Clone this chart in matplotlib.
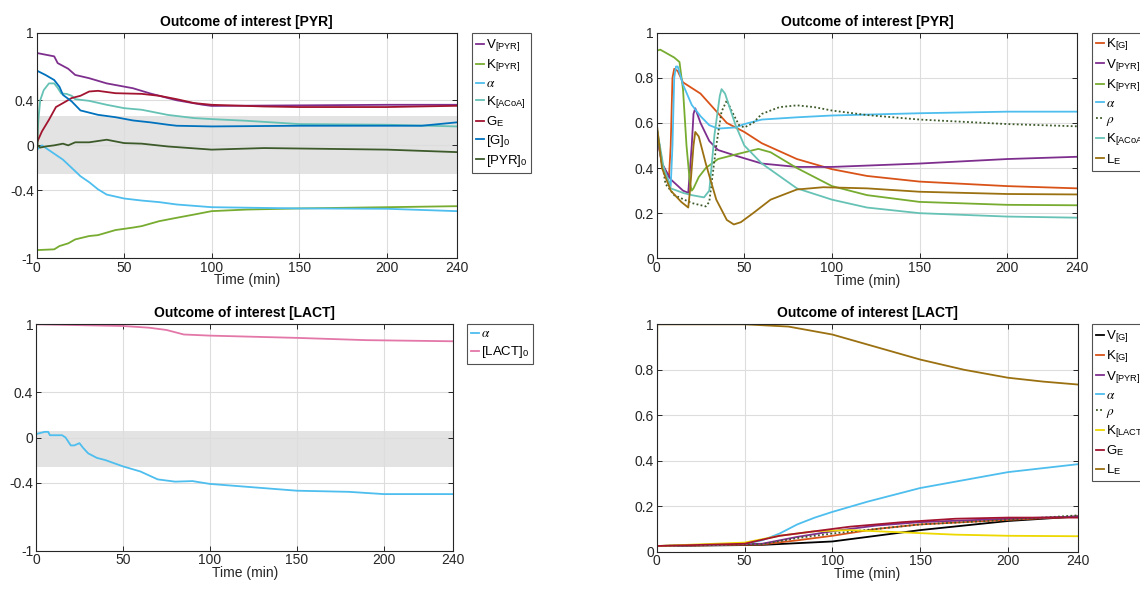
import matplotlib
matplotlib.use("Agg")
import matplotlib.pyplot as plt

plt.rcParams['font.family'] = ['Liberation Sans', 'DejaVu Sans']
plt.rcParams['mathtext.fontset'] = 'stix'

# ---------------- colours ----------------
C_VPYR = '#7E2F8E'
C_KPYR = '#77AC30'
C_ALPHA = '#4DBEEE'
C_KACOA = '#66C2B5'
C_GE = '#A2142F'
C_G0 = '#0072BD'
C_PYR0 = '#3D5A2A'
C_KG = '#D95319'
C_RHO = '#3D5A2A'
C_LE = '#9B7010'
C_LACT0 = '#E377A8'
C_VG = '#000000'
C_KLACT = '#EDD800'

# ---------------- data: top-left (PYR, sensitivity) ----------------
tl_vpyr_t = [0, 10, 12, 18, 22, 30, 40, 55, 65, 80, 95, 100, 150, 200, 240]
tl_vpyr_y = [0.82, 0.79, 0.73, 0.68, 0.625, 0.596, 0.55, 0.507, 0.46, 0.40, 0.36, 0.35, 0.355, 0.36, 0.36]
tl_kpyr_t = [0, 10, 13, 18, 22, 30, 35, 45, 55, 60, 70, 80, 90, 100, 120, 150, 200, 240]
tl_kpyr_y = [-0.93, -0.923, -0.894, -0.87, -0.835, -0.805, -0.797, -0.752, -0.73, -0.717, -0.673, -0.643, -0.614, -0.584, -0.57, -0.56, -0.549, -0.54]
tl_alpha_t = [0, 3, 8, 15, 20, 25, 30, 35, 40, 50, 60, 70, 80, 100, 150, 200, 240]
tl_alpha_y = [-0.04, 0.0, -0.053, -0.127, -0.2, -0.274, -0.327, -0.39, -0.437, -0.472, -0.49, -0.504, -0.525, -0.549, -0.56, -0.563, -0.584]
tl_kacoa_t = [0, 1, 2, 4, 7, 10, 12, 14, 17, 20, 22, 30, 40, 50, 60, 75, 90, 100, 120, 150, 200, 240]
tl_kacoa_y = [0.0, 0.23, 0.40, 0.49, 0.55, 0.55, 0.51, 0.46, 0.457, 0.44, 0.41, 0.395, 0.36, 0.33, 0.316, 0.27, 0.242, 0.233, 0.218, 0.189, 0.183, 0.168]
tl_ge_t = [0, 3, 7, 11, 15, 20, 25, 30, 35, 45, 60, 70, 80, 90, 100, 130, 150, 200, 240]
tl_ge_y = [0.02, 0.124, 0.227, 0.34, 0.375, 0.42, 0.44, 0.478, 0.484, 0.463, 0.457, 0.44, 0.41, 0.375, 0.36, 0.345, 0.34, 0.34, 0.351]
tl_g0_t = [0, 5, 10, 13, 15, 20, 25, 35, 45, 55, 65, 75, 80, 100, 150, 220, 240]
tl_g0_y = [0.664, 0.625, 0.58, 0.52, 0.448, 0.39, 0.31, 0.271, 0.25, 0.221, 0.204, 0.183, 0.174, 0.168, 0.174, 0.174, 0.204]
tl_pyr0_t = [0, 0.5, 2, 5, 10, 15, 18, 22, 30, 40, 50, 60, 75, 100, 130, 200, 240]
tl_pyr0_y = [1.0, 0.0, -0.02, -0.01, 0.0, 0.015, 0.0, 0.027, 0.027, 0.05, 0.02, 0.015, -0.01, -0.038, -0.024, -0.038, -0.06]
tl_band = [-0.25, 0.26]

# ---------------- data: top-right (PYR, parameters) ----------------
tr_kg_t = [0, 3, 7, 8, 9, 10, 12, 15, 25, 40, 50, 60, 80, 100, 120, 150, 200, 240]
tr_kg_y = [0.55, 0.42, 0.36, 0.5, 0.8, 0.84, 0.83, 0.78, 0.73, 0.6, 0.56, 0.51, 0.44, 0.395, 0.365, 0.34, 0.32, 0.31]
tr_vpyr_t = [0, 3, 8, 15, 18, 20, 21, 22, 25, 30, 35, 45, 60, 80, 100, 150, 200, 240]
tr_vpyr_y = [0.55, 0.42, 0.35, 0.3, 0.29, 0.5, 0.64, 0.665, 0.6, 0.52, 0.48, 0.455, 0.42, 0.405, 0.405, 0.42, 0.44, 0.45]
tr_kpyr_t = [0, 2, 10, 13, 15, 17, 19, 20, 21, 24, 28, 35, 45, 58, 65, 80, 100, 120, 150, 200, 240]
tr_kpyr_y = [0.92, 0.925, 0.89, 0.87, 0.75, 0.5, 0.33, 0.3, 0.31, 0.36, 0.4, 0.44, 0.46, 0.485, 0.47, 0.4, 0.32, 0.28, 0.25, 0.237, 0.235]
tr_alpha_t = [0, 3, 8, 9, 10, 11, 12, 15, 20, 25, 30, 35, 45, 50, 60, 80, 100, 150, 200, 240]
tr_alpha_y = [0.58, 0.42, 0.32, 0.5, 0.8, 0.85, 0.85, 0.77, 0.68, 0.63, 0.59, 0.575, 0.58, 0.595, 0.615, 0.625, 0.633, 0.643, 0.65, 0.65]
tr_rho_t = [0, 5, 10, 20, 28, 30, 34, 37, 40, 43, 47, 50, 55, 60, 70, 80, 90, 100, 120, 150, 200, 240]
tr_rho_y = [0.58, 0.33, 0.28, 0.245, 0.23, 0.25, 0.5, 0.65, 0.7, 0.65, 0.59, 0.58, 0.6, 0.64, 0.67, 0.678, 0.67, 0.655, 0.635, 0.615, 0.595, 0.585]
tr_kacoa_t = [0, 4, 8, 15, 20, 27, 30, 33, 36, 37, 39, 42, 45, 50, 60, 80, 100, 120, 150, 200, 240]
tr_kacoa_y = [0.58, 0.4, 0.31, 0.29, 0.28, 0.27, 0.3, 0.55, 0.72, 0.75, 0.73, 0.66, 0.59, 0.5, 0.42, 0.31, 0.26, 0.225, 0.2, 0.185, 0.18]
tr_le_t = [0, 0.3, 3, 8, 14, 18, 19, 21, 22, 24, 28, 34, 40, 44, 48, 55, 65, 80, 95, 120, 150, 200, 240]
tr_le_y = [0.0, 0.58, 0.4, 0.3, 0.25, 0.225, 0.3, 0.5, 0.56, 0.54, 0.42, 0.26, 0.17, 0.15, 0.16, 0.2, 0.26, 0.305, 0.315, 0.31, 0.295, 0.285, 0.283]

# ---------------- data: bottom-left (LACT, sensitivity) ----------------
bl_lact0_t = [0, 50, 65, 75, 85, 100, 150, 190, 240]
bl_lact0_y = [1.0, 0.985, 0.97, 0.95, 0.91, 0.9, 0.88, 0.86, 0.85]
bl_alpha_t = [0, 5, 7, 8, 15, 17, 20, 22, 25, 27, 30, 35, 40, 50, 60, 70, 80, 90, 100, 125, 150, 180, 200, 240]
bl_alpha_y = [0.03, 0.05, 0.05, 0.02, 0.02, 0.0, -0.07, -0.07, -0.05, -0.09, -0.14, -0.18, -0.2, -0.255, -0.3, -0.37, -0.39, -0.385, -0.41, -0.44, -0.47, -0.48, -0.5, -0.5]
bl_band = [-0.26, 0.06]

# ---------------- data: bottom-right (LACT, parameters) ----------------
br_vg_t = [0, 60, 100, 125, 150, 175, 200, 240]
br_vg_y = [0.025, 0.03, 0.045, 0.07, 0.095, 0.115, 0.135, 0.155]
br_kg_t = [0, 60, 80, 100, 125, 150, 200, 240]
br_kg_y = [0.025, 0.032, 0.05, 0.07, 0.1, 0.12, 0.14, 0.155]
br_vpyr_t = [0, 60, 80, 100, 125, 150, 200, 240]
br_vpyr_y = [0.025, 0.035, 0.065, 0.09, 0.115, 0.13, 0.145, 0.155]
br_alpha_t = [0, 50, 60, 70, 80, 90, 100, 120, 150, 175, 200, 240]
br_alpha_y = [0.025, 0.035, 0.05, 0.08, 0.12, 0.15, 0.175, 0.22, 0.28, 0.315, 0.35, 0.385]
br_rho_t = [0, 60, 80, 100, 125, 150, 200, 240]
br_rho_y = [0.025, 0.033, 0.06, 0.08, 0.1, 0.12, 0.14, 0.16]
br_klact_t = [0, 50, 70, 90, 110, 140, 170, 200, 240]
br_klact_y = [0.025, 0.04, 0.07, 0.09, 0.095, 0.085, 0.075, 0.07, 0.068]
br_ge_t = [0, 50, 70, 90, 110, 140, 170, 200, 240]
br_ge_y = [0.025, 0.035, 0.07, 0.09, 0.11, 0.13, 0.145, 0.15, 0.15]
br_le_t = [0, 0.3, 50, 75, 100, 125, 150, 175, 200, 220, 240]
br_le_y = [0.025, 1.0, 1.0, 0.99, 0.955, 0.9, 0.845, 0.8, 0.765, 0.748, 0.735]

xticks = [0, 50, 100, 150, 200, 240]
sens_yticks = [-1, -0.4, 0, 0.4, 1]
sens_yticklabels = ['-1', '-0.4', '0', '0.4', '1']
par_yticks = [0, 0.2, 0.4, 0.6, 0.8, 1]
par_yticklabels = ['0', '0.2', '0.4', '0.6', '0.8', '1']


def sub(base, s):
    return base + r'$_{\mathregular{' + s + '}}$'


L_VPYR = sub('V', '[PYR]')
L_KPYR = sub('K', '[PYR]')
L_ALPHA = r'$\alpha$'
L_RHO = r'$\rho$'
L_KACOA = sub('K', '[ACoA]')
L_GE = sub('G', 'E')
L_G0 = sub('[G]', '0')
L_PYR0 = sub('[PYR]', '0')
L_KG = sub('K', '[G]')
L_LE = sub('L', 'E')
L_LACT0 = sub('[LACT]', '0')
L_VG = sub('V', '[G]')
L_KLACT = sub('K', '[LACT]')

W, H = 1140, 589
fig = plt.figure(figsize=(W / 100, H / 100), dpi=100)


def make_ax(x0, x1, ytop, ybot):
    return fig.add_axes([x0 / W, 1 - ybot / H, (x1 - x0) / W, (ybot - ytop) / H])


def style(ax, title, yticks, yticklabels, ylim):
    ax.set_xlim(0, 240)
    ax.set_ylim(*ylim)
    ax.set_xticks(xticks)
    ax.set_yticks(yticks)
    ax.set_yticklabels(yticklabels)
    ax.grid(True, color='#DDDDDD', linewidth=0.8)
    ax.set_axisbelow(True)
    ax.tick_params(direction='in', top=True, right=True, length=3.5, width=0.7,
                   labelsize=10, colors='#262626', pad=2)
    for s in ax.spines.values():
        s.set_linewidth(0.8)
        s.set_color('#262626')
    ax.set_title(title, fontsize=10, fontweight='bold', pad=5)
    ax.set_xlabel('Time (min)', fontsize=10, labelpad=-1, color='#262626')


def legend(ax, x, y):
    leg = ax.legend(loc='upper left', bbox_to_anchor=(x / W, 1 - y / H),
                    bbox_transform=fig.transFigure, borderaxespad=0,
                    fontsize=9.5, handlelength=0.6, handletextpad=0.15,
                    labelspacing=0.28, borderpad=0.3, frameon=True, fancybox=False)
    leg.get_frame().set_edgecolor('#262626')
    leg.get_frame().set_linewidth(0.8)
    return leg


lw = 1.3
dots = (0, (1, 1.3))

# top-left
ax = make_ax(36.7, 456.7, 32.7, 258)
ax.axhspan(tl_band[0], tl_band[1], color='#E3E3E3', lw=0, zorder=0.5)
ax.plot(tl_vpyr_t, tl_vpyr_y, color=C_VPYR, lw=lw, label=L_VPYR)
ax.plot(tl_kpyr_t, tl_kpyr_y, color=C_KPYR, lw=lw, label=L_KPYR)
ax.plot(tl_alpha_t, tl_alpha_y, color=C_ALPHA, lw=lw, label=L_ALPHA)
ax.plot(tl_kacoa_t, tl_kacoa_y, color=C_KACOA, lw=lw, label=L_KACOA)
ax.plot(tl_ge_t, tl_ge_y, color=C_GE, lw=lw, label=L_GE)
ax.plot(tl_g0_t, tl_g0_y, color=C_G0, lw=lw, label=L_G0)
ax.plot(tl_pyr0_t, tl_pyr0_y, color=C_PYR0, lw=lw, label=L_PYR0)
style(ax, 'Outcome of interest [PYR]', sens_yticks, sens_yticklabels, (-1, 1))
legend(ax, 471.7, 33.3)

# top-right
ax = make_ax(656.7, 1077.3, 32.7, 258.3)
ax.plot(tr_kg_t, tr_kg_y, color=C_KG, lw=lw, label=L_KG)
ax.plot(tr_vpyr_t, tr_vpyr_y, color=C_VPYR, lw=lw, label=L_VPYR)
ax.plot(tr_kpyr_t, tr_kpyr_y, color=C_KPYR, lw=lw, label=L_KPYR)
ax.plot(tr_alpha_t, tr_alpha_y, color=C_ALPHA, lw=lw, label=L_ALPHA)
ax.plot(tr_rho_t, tr_rho_y, color=C_RHO, lw=lw, ls=dots, label=L_RHO)
ax.plot(tr_kacoa_t, tr_kacoa_y, color=C_KACOA, lw=lw, label=L_KACOA)
ax.plot(tr_le_t, tr_le_y, color=C_LE, lw=lw, label=L_LE)
style(ax, 'Outcome of interest [PYR]', par_yticks, par_yticklabels, (0, 1))
legend(ax, 1091.7, 32.7)

# bottom-left
ax = make_ax(36, 453.3, 324.3, 550.7)
ax.axhspan(bl_band[0], bl_band[1], color='#E3E3E3', lw=0, zorder=0.5)
ax.plot(bl_alpha_t, bl_alpha_y, color=C_ALPHA, lw=lw, label=L_ALPHA)
ax.plot(bl_lact0_t, bl_lact0_y, color=C_LACT0, lw=lw, label=L_LACT0)
style(ax, 'Outcome of interest [LACT]', sens_yticks, sens_yticklabels, (-1, 1))
legend(ax, 467.3, 324.3)

# bottom-right
ax = make_ax(656.7, 1078.3, 324.3, 551.7)
ax.plot(br_vg_t, br_vg_y, color=C_VG, lw=lw, label=L_VG)
ax.plot(br_kg_t, br_kg_y, color=C_KG, lw=lw, label=L_KG)
ax.plot(br_vpyr_t, br_vpyr_y, color=C_VPYR, lw=lw, label=L_VPYR)
ax.plot(br_alpha_t, br_alpha_y, color=C_ALPHA, lw=lw, label=L_ALPHA)
ax.plot(br_rho_t, br_rho_y, color=C_RHO, lw=lw, ls=dots, label=L_RHO)
ax.plot(br_klact_t, br_klact_y, color=C_KLACT, lw=lw, label=L_KLACT)
ax.plot(br_ge_t, br_ge_y, color=C_GE, lw=lw, label=L_GE)
ax.plot(br_le_t, br_le_y, color=C_LE, lw=lw, label=L_LE)
style(ax, 'Outcome of interest [LACT]', par_yticks, par_yticklabels, (0, 1))
legend(ax, 1091.7, 324.3)

fig.savefig('out.png', dpi=100)
